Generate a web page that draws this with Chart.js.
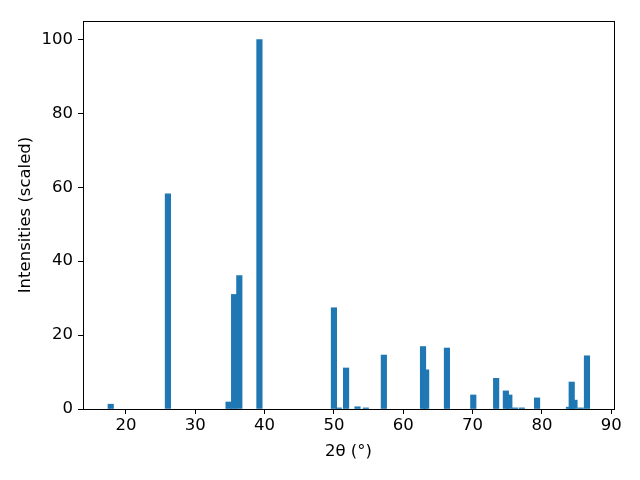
<!DOCTYPE html>
<html>
<head>
<meta charset="utf-8">
<script src="https://cdn.jsdelivr.net/npm/chart.js@4"></script>
<style>
  html, body { margin: 0; padding: 0; background: #fff; }
  #wrap { width: 640px; height: 480px; position: relative; }
</style>
</head>
<body>
<div id="wrap"><canvas id="chart" width="640" height="480"></canvas></div>
<script>
// peak positions (2theta, degrees) and scaled intensities
const twoTheta = [17.8, 26.05, 34.8, 35.6, 36.35, 39.25, 50.0, 50.7, 51.75, 53.4, 54.6, 57.2,
  62.85, 63.3, 66.3, 70.1, 73.4, 74.8, 75.3, 76.1, 77.1, 79.3, 83.9, 84.3, 84.7, 85.6, 86.5];
const intensity = [1.3, 58.2, 1.9, 31.0, 36.1, 100, 27.4, 0.3, 11.1, 0.6, 0.3, 14.6,
  16.9, 10.6, 16.5, 3.8, 8.3, 4.9, 3.8, 0.3, 0.3, 3.0, 0.5, 7.3, 2.4, 0.3, 14.4];
const xTicks = [20, 30, 40, 50, 60, 70, 80, 90];
const yTicks = [0, 20, 40, 60, 80, 100];

const font = { family: 'DejaVu Sans', size: 16.5 };

// box around the axes like matplotlib
const frame = {
  id: 'frame',
  afterDraw(chart) {
    const a = chart.chartArea;
    const ctx = chart.ctx;
    ctx.save();
    ctx.strokeStyle = '#000';
    ctx.lineWidth = 1;
    ctx.strokeRect(Math.round(a.left) + 0.5, Math.round(a.top) + 0.5,
      Math.round(a.right - a.left), Math.round(a.bottom - a.top));
    ctx.restore();
  }
};

const ctx = document.getElementById('chart').getContext('2d');
new Chart(ctx, {
  type: 'bar',
  data: {
    datasets: [{
      data: twoTheta.map((t, i) => ({ x: t, y: intensity[i] })),
      backgroundColor: '#1f77b4',
      borderWidth: 0,
      barThickness: 5.5,
      grouped: false
    }]
  },
  options: {
    responsive: false,
    animation: false,
    layout: { padding: { left: 0, right: 26, top: 21, bottom: 0 } },
    plugins: { legend: { display: false }, tooltip: { enabled: false } },
    scales: {
      x: {
        type: 'linear',
        min: 13.8,
        max: 90.4,
        offset: false,
        afterBuildTicks: (s) => { s.ticks = xTicks.map(v => ({ value: v })); },
        afterFit: (s) => { s.height = 71; },
        ticks: { font, color: '#000', padding: 2, maxRotation: 0, autoSkip: false },
        grid: { offset: false, drawOnChartArea: false, drawTicks: true, tickLength: 5, color: '#000' },
        border: { display: true, color: '#000' },
        title: { display: true, text: '2θ (°)', font, color: '#000', padding: { top: 0, bottom: 18 } }
      },
      y: {
        min: 0,
        max: 105,
        afterBuildTicks: (s) => { s.ticks = yTicks.map(v => ({ value: v })); },
        afterFit: (s) => { s.width = 83; },
        ticks: { font, color: '#000', padding: 5 },
        grid: { offset: false, drawOnChartArea: false, drawTicks: true, tickLength: 5, color: '#000' },
        border: { display: true, color: '#000' },
        title: { display: true, text: 'Intensities (scaled)', font, color: '#000', padding: { top: 16, bottom: 0 } }
      }
    }
  },
  plugins: [frame]
});
</script>
</body>
</html>
